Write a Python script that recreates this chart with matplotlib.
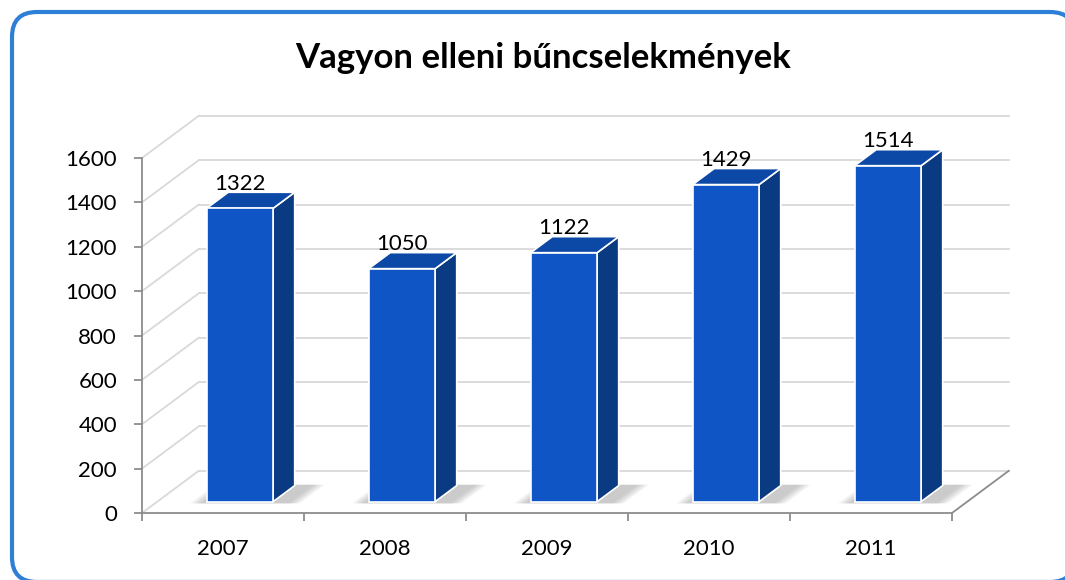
import numpy as np
import matplotlib.pyplot as plt
from matplotlib.patches import Polygon, FancyBboxPatch

plt.rcParams['font.family'] = ['Lato', 'DejaVu Sans']

# data
years = ['2007', '2008', '2009', '2010', '2011']
values = [1322, 1050, 1122, 1429, 1514]
yticks = [0, 200, 400, 600, 800, 1000, 1200, 1400, 1600]
title = 'Vagyon elleni bűncselekmények'

# 3d look: depth offset in (category, value) units
DX, DY = 0.35, 190
W, Z0, Z1 = 0.41, 0.27, 0.65
front_c, side_c, top_c = '#1055c6', '#0a3a82', '#0c48a6'
grid_c, axis_c = '#d9d9d9', '#8c8c8c'


def P(x, v, z):
    return (x + z * DX, v + z * DY)


fig = plt.figure(figsize=(10.65, 5.8), dpi=100)

# frame
bg = fig.add_axes([0, 0, 1, 1], zorder=-1)
bg.set_xlim(0, 1065)
bg.set_ylim(580, 0)
bg.axis('off')
bg.add_patch(FancyBboxPatch((12, 12), 1063, 570, boxstyle='round,pad=0,rounding_size=25',
                            fc='white', ec='#2e7fd6', lw=3))

ax = fig.add_axes([142 / 1065, 67 / 580, 810 / 1065, 355 / 580])
ax.set_xlim(0, 5)
ax.set_ylim(0, 1600)
ax.patch.set_visible(False)

n = len(years)
# back wall + left wall gridlines
for t in yticks:
    xs, ys = zip(P(0, t, 1), P(n, t, 1))
    ax.plot(xs, ys, color=grid_c, lw=1.3, clip_on=False, zorder=1)
    xs, ys = zip(P(0, t, 0), P(0, t, 1))
    ax.plot(xs, ys, color=grid_c, lw=1.3, clip_on=False, zorder=1)
# floor right edge
xs, ys = zip(P(n, 0, 0), P(n, 0, 1))
ax.plot(xs, ys, color=axis_c, lw=1.3, clip_on=False, zorder=2)

for i, v in enumerate(values):
    x0 = i + 0.51 - W / 2
    x1 = x0 + W
    # soft shadow on floor
    for k in range(8):
        e = 0.01 * (8 - k)
        shp = [P(x0 - e - 0.01, 0, Z0 - 0.04), P(x1 + e + 0.1, 0, Z0 - 0.04),
               P(x1 + e + 0.1, 0, Z1 + 0.02), P(x0 - e - 0.01, 0, Z1 + 0.02)]
        ax.add_patch(Polygon(shp, closed=True, fc='#808080', ec='none', alpha=0.06,
                             clip_on=False, zorder=3))
    front = [P(x0, 0, Z0), P(x1, 0, Z0), P(x1, v, Z0), P(x0, v, Z0)]
    side = [P(x1, 0, Z0), P(x1, 0, Z1), P(x1, v, Z1), P(x1, v, Z0)]
    top = [P(x0, v, Z0), P(x1, v, Z0), P(x1, v, Z1), P(x0, v, Z1)]
    for pts, c in ((side, side_c), (top, top_c), (front, front_c)):
        ax.add_patch(Polygon(pts, closed=True, fc=c, ec='white', lw=1.2,
                             joinstyle='miter', clip_on=False, zorder=4))
    ax.annotate(str(v), P(i + 0.51, v, Z0), xytext=(0, 13.5), textcoords='offset points',
                ha='center', va='baseline', fontsize=16, color='black', zorder=5,
                annotation_clip=False)

# axes
for s in ('top', 'right'):
    ax.spines[s].set_visible(False)
for s in ('left', 'bottom'):
    ax.spines[s].set_color(axis_c)
    ax.spines[s].set_linewidth(1.3)
ax.set_yticks(yticks)
ax.set_yticklabels([str(t) for t in yticks])
ax.set_xticks(np.arange(n + 1))
ax.set_xticklabels([])
ax.set_xticks(np.arange(n) + 0.5, minor=True)
ax.set_xticklabels(years, minor=True)
ax.tick_params(axis='y', length=6, width=1.3, color=axis_c, pad=12, labelsize=16)
ax.tick_params(axis='x', which='major', length=6, width=1.3, color=axis_c)
ax.tick_params(axis='x', which='minor', length=0, pad=19, labelsize=16)

fig.text(543 / 1065, 1 - 58 / 580, title, ha='center', va='center',
         fontsize=25, fontweight='bold')

fig.savefig('out.png', dpi=100)
